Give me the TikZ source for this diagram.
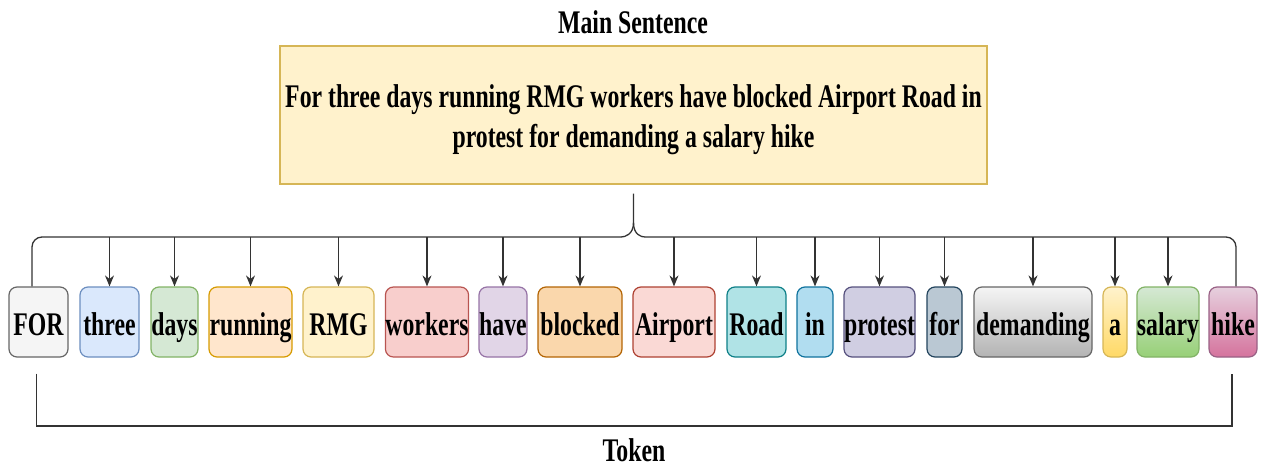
\documentclass[tikz,border=0pt]{standalone}
\usepackage{fontspec}
\setmainfont{Liberation Serif}[FakeStretch=0.72]
\usetikzlibrary{arrows.meta,calc}

% draw.io palette
\definecolor{fGray}{HTML}{F5F5F5}\definecolor{sGray}{HTML}{666666}
\definecolor{fBlue}{HTML}{DAE8FC}\definecolor{sBlue}{HTML}{6C8EBF}
\definecolor{fGreen}{HTML}{D5E8D4}\definecolor{sGreen}{HTML}{82B366}
\definecolor{fOrange}{HTML}{FFE6CC}\definecolor{sOrange}{HTML}{D79B00}
\definecolor{fYellow}{HTML}{FFF2CC}\definecolor{sYellow}{HTML}{D6B656}
\definecolor{fRed}{HTML}{F8CECC}\definecolor{sRed}{HTML}{B85450}
\definecolor{fPurple}{HTML}{E1D5E7}\definecolor{sPurple}{HTML}{9673A6}
\definecolor{fAmber}{HTML}{FAD7AC}\definecolor{sAmber}{HTML}{B46504}
\definecolor{fRose}{HTML}{FAD9D5}\definecolor{sRose}{HTML}{AE4132}
\definecolor{fTeal}{HTML}{B0E3E6}\definecolor{sTeal}{HTML}{0E8088}
\definecolor{fSky}{HTML}{B1DDF0}\definecolor{sSky}{HTML}{10739E}
\definecolor{fLav}{HTML}{D0CEE2}\definecolor{sLav}{HTML}{56517E}
\definecolor{fSlate}{HTML}{BAC8D3}\definecolor{sSlate}{HTML}{23445D}
\definecolor{gGray}{HTML}{B3B3B3}
\definecolor{gYellow}{HTML}{FFD966}
\definecolor{gGreen}{HTML}{97D077}
\definecolor{fPink}{HTML}{E6D0DE}\definecolor{gPink}{HTML}{D5739D}\definecolor{sPink}{HTML}{996185}
\definecolor{wire}{HTML}{333333}

\newcommand{\txtfont}{\fontsize{33}{40}\selectfont\bfseries}

\begin{document}
\begin{tikzpicture}[x=1pt,y=-1pt,
  tok/.style={draw, rounded corners=8pt, minimum height=70pt, inner sep=0pt,
              text height=30pt, text depth=4pt,
              line width=1.2pt, font=\txtfont},
  conn/.style={draw=wire, line width=1.3pt},
  arr/.style={conn, -{Stealth[length=11pt,width=9pt]}},
  lbl/.style={font=\txtfont, inner sep=0pt}]
\useasboundingbox (0,0) rectangle (1261,468);

% heading and sentence box
\node[lbl] (head) at (633,22) {Main Sentence};
\node[draw=sYellow, fill=fYellow, line width=1.2pt, minimum width=707pt,
      minimum height=138pt, inner sep=0pt] (main) at (633.5,115) {};
\node[lbl, align=center] (sent) at (633.5,120)
  {For three days running RMG workers have blocked Airport Road in\\[0pt]
   protest for demanding a salary hike};

% tokens
\node[tok, fill=fGray,   draw=sGray,   minimum width=59pt]  (t1)  at (38.5,322)  {FOR};
\node[tok, fill=fBlue,   draw=sBlue,   minimum width=59pt]  (t2)  at (109.5,322) {three};
\node[tok, fill=fGreen,  draw=sGreen,  minimum width=47pt]  (t3)  at (174.5,322) {days};
\node[tok, fill=fOrange, draw=sOrange, minimum width=83pt]  (t4)  at (250.5,322) {running};
\node[tok, fill=fYellow, draw=sYellow, minimum width=71pt]  (t5)  at (338.5,322) {RMG};
\node[tok, fill=fRed,    draw=sRed,    minimum width=82pt]  (t6)  at (427,322)   {workers};
\node[tok, fill=fPurple, draw=sPurple, minimum width=48pt]  (t7)  at (503,322)   {have};
\node[tok, fill=fAmber,  draw=sAmber,  minimum width=84pt]  (t8)  at (580,322)   {blocked};
\node[tok, fill=fRose,   draw=sRose,   minimum width=82pt]  (t9)  at (674,322)   {Airport};
\node[tok, fill=fTeal,   draw=sTeal,   minimum width=59pt]  (t10) at (756.5,322) {Road};
\node[tok, fill=fSky,    draw=sSky,    minimum width=36pt]  (t11) at (815,322)   {in};
\node[tok, fill=fLav,    draw=sLav,    minimum width=71pt]  (t12) at (879.5,322) {protest};
\node[tok, fill=fSlate,  draw=sSlate,  minimum width=35pt]  (t13) at (944.5,322) {for};
\node[tok, top color=fGray,   bottom color=gGray,   draw=sGray,   minimum width=118pt] (t14) at (1033,322) {demanding};
\node[tok, top color=fYellow, bottom color=gYellow, draw=sYellow, minimum width=24pt]  (t15) at (1115,322) {a};
\node[tok, top color=fGreen,  bottom color=gGreen,  draw=sGreen,  minimum width=60pt]  (t16) at (1168,322) {salary};
\node[tok, top color=fPink,   bottom color=gPink,   draw=sPink,   minimum width=48pt]  (t17) at (1233,322) {hike};

\node[lbl] (tokenlbl) at (634,450) {Token};

% brace under the sentence box
\coordinate (stem) at ($(main.south)+(0,9)$);
\coordinate (bar)  at (633,237);
\coordinate (lend) at ($(t1.north)+(-6.5,0)$);
\coordinate (rend) at ($(t17.north)+(3,0)$);
\draw[conn] (stem) -- ++(0,29) .. controls +(0,12) and +(4,0) .. ($(bar)+(-12,0)$);
\draw[conn] ($(stem)+(0,29)$) .. controls +(0,12) and +(-4,0) .. ($(bar)+(12,0)$);
\draw[conn, rounded corners=10pt] ($(bar)+(-12,0)$) -| (lend);
\draw[conn, rounded corners=10pt] ($(bar)+(12,0)$) -| (rend);

% arrows to the tokens
\foreach \t in {t2,t3,t4,t5,t6,t7,t8,t9,t10,t11,t12,t13,t14,t15,t16}
  \draw[arr] (bar -| \t.north) -- (\t.north);

% bracket below the tokens
\coordinate (bl) at ($(t1.south)+(-2,16)$);
\coordinate (br) at ($(t17.south)+(-1,16)$);
\draw[conn, line width=1.8pt] (bl) -- ++(0,52) -| (br);
\end{tikzpicture}
\end{document}
